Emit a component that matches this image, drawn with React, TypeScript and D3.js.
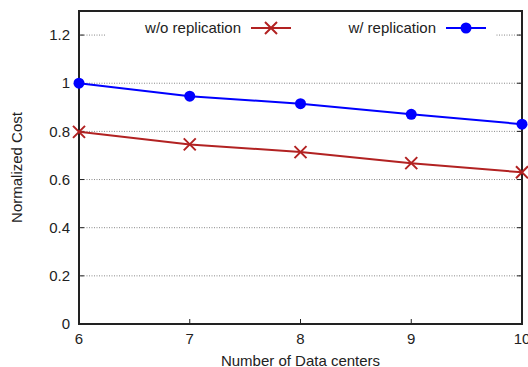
import React from "react";
import * as d3 from "d3";

const xValues = [6, 7, 8, 9, 10];
const woReplication = [0.798, 0.746, 0.714, 0.668, 0.630];
const wReplication = [1.0, 0.946, 0.915, 0.871, 0.830];
const yTicks = [0, 0.2, 0.4, 0.6, 0.8, 1, 1.2];
const xTicks = [6, 7, 8, 9, 10];

const W = 528, H = 367;
const M = { left: 79, right: 522, top: 11, bottom: 324 };
const FONT = "Liberation Sans, Arial, Helvetica, sans-serif";
const RED = "#b22222";
const BLUE = "#0000ff";
const FS = 15;

export default function App() {
  const x = d3.scaleLinear().domain([6, 10]).range([M.left, M.right]);
  const y = d3.scaleLinear().domain([0, 1.3]).range([M.bottom, M.top]);
  const line = d3.line<number>().x((_, i) => x(xValues[i])).y((d) => y(d));

  const cross = (cx: number, cy: number, s: number, key: string) => (
    <path key={key} d={`M${cx - s},${cy - s}L${cx + s},${cy + s}M${cx - s},${cy + s}L${cx + s},${cy - s}`} stroke={RED} strokeWidth={2} fill="none" />
  );

  return (
    <svg width={W} height={H} style={{ position: "absolute", left: 0, top: 0 }} fontFamily={FONT}>
      <rect width={W} height={H} fill="#fff" />
      {/* grid */}
      {yTicks.filter((t) => t > 0).map((t) => (
        <line key={"g" + t} x1={M.left} x2={M.right} y1={y(t)} y2={y(t)} stroke="#888" strokeWidth={1} strokeDasharray="1,1.5" />
      ))}
      {/* legend background */}
      <rect x={105} y={18} width={390} height={22} fill="#fff" />
      {/* ticks */}
      {yTicks.map((t) => (
        <g key={"yt" + t}>
          <line x1={M.left} x2={M.left + 5} y1={y(t)} y2={y(t)} stroke="#222" />
          <line x1={M.right} x2={M.right - 5} y1={y(t)} y2={y(t)} stroke="#222" />
          <text x={70} y={y(t)} dy="0.35em" textAnchor="end" fontSize={FS} fill="#222">{t}</text>
        </g>
      ))}
      {xTicks.map((t) => (
        <g key={"xt" + t}>
          <line x1={x(t)} x2={x(t)} y1={M.bottom} y2={M.bottom - 5} stroke="#222" />
          <text x={x(t)} y={344} textAnchor="middle" fontSize={FS} fill="#222">{t}</text>
        </g>
      ))}
      {/* frame */}
      <rect x={M.left} y={M.top} width={M.right - M.left} height={M.bottom - M.top} fill="none" stroke="#222" strokeWidth={2} />
      {/* series */}
      <path d={line(woReplication) || ""} fill="none" stroke={RED} strokeWidth={2} />
      {woReplication.map((v, i) => cross(x(xValues[i]), y(v), 6, "c" + i))}
      <path d={line(wReplication) || ""} fill="none" stroke={BLUE} strokeWidth={2} />
      {wReplication.map((v, i) => (
        <circle key={"b" + i} cx={x(xValues[i])} cy={y(v)} r={5.5} fill={BLUE} />
      ))}
      {/* legend */}
      <text x={241} y={28} dy="0.35em" textAnchor="end" fontSize={FS} fill="#222">w/o replication</text>
      <line x1={251} x2={291} y1={28} y2={28} stroke={RED} strokeWidth={2} />
      {cross(271, 28, 6, "lc")}
      <text x={436} y={28} dy="0.35em" textAnchor="end" fontSize={FS} fill="#222">w/ replication</text>
      <line x1={446} x2={486} y1={28} y2={28} stroke={BLUE} strokeWidth={2} />
      <circle cx={466} cy={28} r={5.5} fill={BLUE} />
      {/* axis labels */}
      <text x={(M.left + M.right) / 2} y={366} textAnchor="middle" fontSize={FS} fill="#222">Number of Data centers</text>
      <text transform={`translate(22,${(M.top + M.bottom) / 2}) rotate(-90)`} textAnchor="middle" fontSize={FS} fill="#222">Normalized Cost</text>
    </svg>
  );
}
